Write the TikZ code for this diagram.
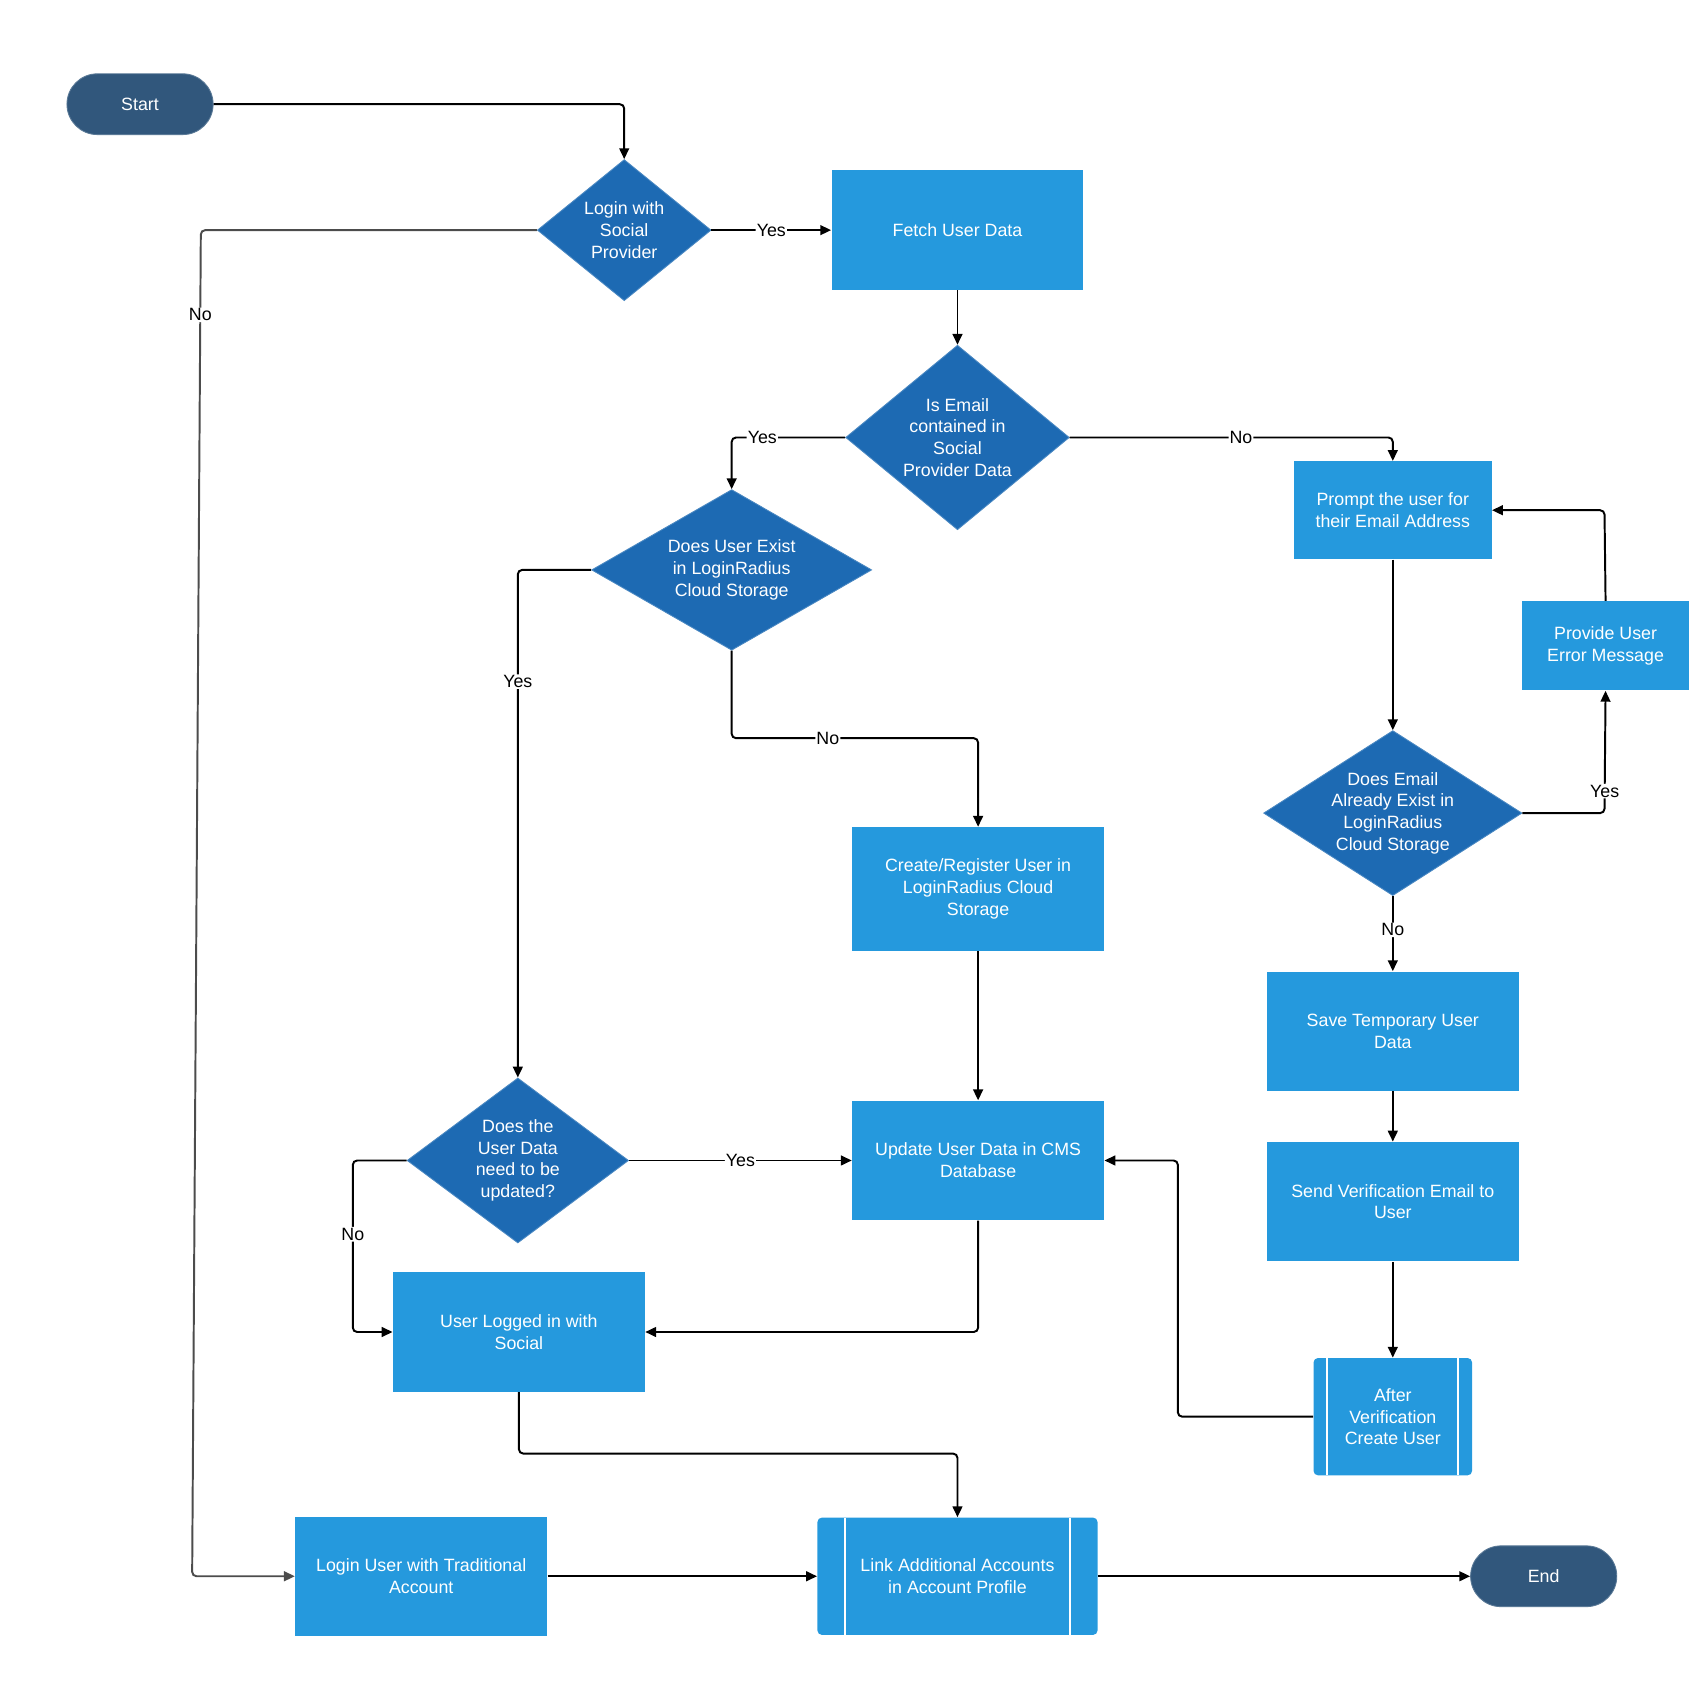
\documentclass[tikz,border=0pt]{standalone}
\usepackage{fontspec}
\setmainfont{Liberation Sans}
\usetikzlibrary{shapes.geometric,arrows.meta}
\definecolor{term}{HTML}{31577C}
\definecolor{dia}{HTML}{1D6AB3}
\definecolor{box}{HTML}{2599DD}
\begin{document}
\begin{tikzpicture}[x=0.5pt,y=-0.5pt,
  every node/.style={font=\fontsize{8.2}{10}\selectfont,text=white,align=center},
  term/.style={rounded rectangle,fill=term,draw=term!80!white,minimum width=74pt,minimum height=28pt},
  box/.style={rectangle,fill=box,minimum width=#1,minimum height=55pt},
  box/.default=116pt,
  dia/.style n args={3}{diamond,fill=dia,draw=dia!80!white,minimum width=#1,minimum height=#2,inner sep=0pt,
     label={[text=white,align=center]center:#3}},
  ln/.style={line width=0.9pt,rounded corners=2pt,-{Triangle[length=5pt,width=4.5pt]}},
  lb/.style={text=black,fill=white,inner sep=0.5pt}]
\useasboundingbox (0,0) rectangle (1556,1566);
\usetikzlibrary{shapes.misc}
\node[term] (start) at (129,96) {Start};
\node[dia={80pt}{65pt}{Login with\\Social\\Provider}] (login) at (575,212) {};
\node[box] (fetch) at (882,212) {Fetch User Data};
\node[dia={103pt}{85pt}{Is Email\\contained in\\Social\\Provider Data}] (email) at (882,403) {};
\node[box=91pt,minimum height=45pt] (prompt) at (1283,470) {Prompt the user for\\their Email Address};
\node[dia={129pt}{74pt}{Does User Exist\\in LoginRadius\\Cloud Storage}] (exist) at (674,525) {};
\node[box=77pt,minimum height=41pt] (err) at (1479,595) {Provide User\\Error Message};
\node[dia={119pt}{76pt}{Does Email\\Already Exist in\\LoginRadius\\Cloud Storage}] (eexist) at (1283,749) {};
\node[box,minimum height=57pt] (create) at (901,819) {Create/Register User in\\LoginRadius Cloud\\Storage};
\node[box] (save) at (1283,950) {Save Temporary User\\Data};
\node[dia={102pt}{76pt}{Does the\\User Data\\need to be\\updated?}] (need) at (477,1069) {};
\node[box] (update) at (901,1069) {Update User Data in CMS\\Database};
\node[box] (send) at (1283,1107) {Send Verification Email to\\User};
\node[box] (logged) at (478,1227) {User Logged in with\\Social};
\node[box=73pt,minimum height=54pt,rounded corners=2pt] (after) at (1283,1305) {After\\Verification\\Create User};
\draw[white,line width=1pt] (1222,1251) -- (1222,1359) (1343,1251) -- (1343,1359);
\node[box] (trad) at (388,1452) {Login User with Traditional\\Account};
\node[box=129pt,minimum height=54pt,rounded corners=2pt] (link) at (882,1452) {Link Additional Accounts\\in Account Profile};
\draw[white,line width=1pt] (778,1398) -- (778,1506) (986,1398) -- (986,1506);
\node[term] (end) at (1422,1452) {End};

\draw[ln] (start.east) -| (login.north);
\draw[ln] (login.east) -- node[lb,pos=0.5]{Yes} (fetch.west);
\draw[ln,draw=black!70] (login.west) -- (185,212) -- node[lb,pos=0.063]{No} (177,1452) -- (trad.west);
\draw[ln] (fetch.south) -- (email.north);
\draw[ln] (email.west) -- node[lb,pos=0.73]{Yes} (674,403) -- (exist.north);
\draw[ln] (email.east) -- node[lb,pos=0.53]{No} (1283,403) -- (prompt.north);
\draw[ln] (exist.west) -- (477,525) -- node[lb,pos=0.22]{Yes} (need.north);
\draw[ln] (exist.south) -- (674,680) -- node[lb,pos=0.39]{No} (901,680) -- (create.north);
\draw[ln] (prompt.south) -- (eexist.north);
\draw[ln] (eexist.east) -- (1478,749) -- node[lb,pos=0.18]{Yes} (err.south);
\draw[ln] (err.north) -- (1478,470) -- (prompt.east);
\draw[ln] (eexist.south) -- node[lb,pos=0.45]{No} (save.north);
\draw[ln] (save.south) -- (send.north);
\draw[ln] (send.south) -- (after.north);
\draw[ln] (after.west) -- (1085,1305) -- (1085,1069) -- (update.east);
\draw[ln] (create.south) -- (update.north);
\draw[ln] (need.east) -- node[lb,pos=0.5]{Yes} (update.west);
\draw[ln] (need.west) -- (325,1069) -- node[lb,pos=0.43]{No} (325,1227) -- (logged.west);
\draw[ln] (update.south) -- (901,1227) -- (logged.east);
\draw[ln] (logged.south) -- (478,1339) -- (882,1339) -- (link.north);
\draw[ln] (trad.east) -- (link.west);
\draw[ln] (link.east) -- (end.west);
\end{tikzpicture}
\end{document}
